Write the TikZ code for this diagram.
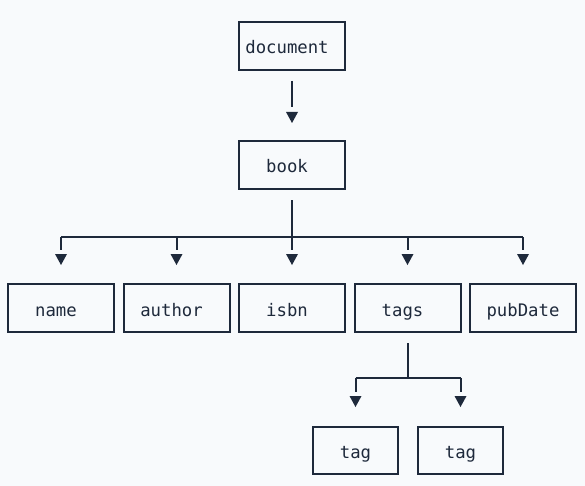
\documentclass[tikz,border=0pt]{standalone}
\usepackage{fontspec}
\setmonofont{DejaVu Sans Mono}
\usetikzlibrary{calc}
\definecolor{ink}{HTML}{1E293B}
\definecolor{bg}{HTML}{F8FAFC}
\tikzset{
  box/.style={draw=ink, line width=2pt, minimum width=106pt, minimum height=48pt, inner sep=0pt,
    text height=17pt, text depth=1pt,
    font=\ttfamily\fontsize{17.3}{20}\selectfont, text=ink},
  smallbox/.style={box, minimum width=85pt, minimum height=47pt},
  link/.style={draw=ink, line width=2pt},
}
\newcommand\tipat[1]{\fill[ink] (#1) -- ++(-6,-11) -- ++(12,0) -- cycle;}
\newcommand\lsh[1]{#1\kern10pt}
\begin{document}
\begin{tikzpicture}[x=1pt,y=-1pt]
\fill[bg] (0,0) rectangle (585,486);
\useasboundingbox (0,0) rectangle (585,486);

\node[box] (document) at (292,46) {\lsh{document}};
\node[box] (book) at (292,165) {\lsh{book}};
\node[box] (name) at (61,308) {\lsh{name}};
\node[box] (author) at (176.5,308) {\lsh{author}};
\node[box] (isbn) at (292,308) {\lsh{isbn}};
\node[box] (tags) at (407.5,308) {\lsh{tags}};
\node[box] (pubdate) at (523,308) {pubDate};
\node[smallbox] (tag1) at (355.5,450.5) {tag};
\node[smallbox] (tag2) at (460.5,450.5) {tag};

% document -> book
\coordinate (dstart) at ($(document.south)+(0,10)$);
\coordinate (dend) at ($(book.north)+(0,-33)$);
\coordinate (dtip) at ($(book.north)+(0,-17)$);
\draw[link] (dstart) -- (dend);
\tipat{dtip}

% book -> children
\coordinate (bstart) at ($(book.south)+(0,10)$);
\coordinate (bj) at (292,237);
\draw[link] (bstart) -- (bj);
\draw[link] (name |- bj) -- (pubdate |- bj);
\foreach \n in {name,author,isbn,tags,pubdate}{
  \draw[link] (\n |- bj) -- ($(\n.north)+(0,-33)$);
  \coordinate (tip-\n) at ($(\n.north)+(0,-18)$);
  \tipat{tip-\n}
}

% tags -> tag
\coordinate (tstart) at ($(tags.south)+(0,10)$);
\coordinate (tj) at (407.5,378);
\draw[link] (tstart) -- (tj);
\draw[link] (tag1 |- tj) -- (tag2 |- tj);
\foreach \n in {tag1,tag2}{
  \draw[link] (\n |- tj) -- ($(\n.north)+(0,-34)$);
  \coordinate (tip-\n) at ($(\n.north)+(0,-19)$);
  \tipat{tip-\n}
}
\end{tikzpicture}
\end{document}
